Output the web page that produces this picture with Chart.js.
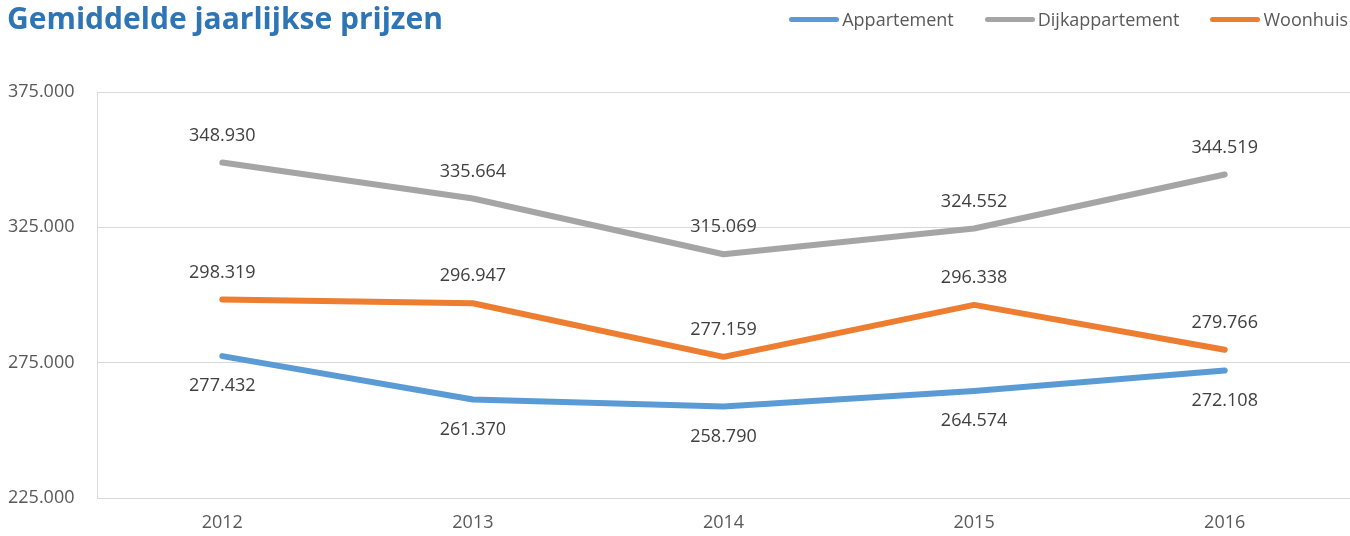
<!DOCTYPE html>
<html>
<head>
<meta charset="utf-8">
<script src="https://cdn.jsdelivr.net/npm/chart.js@4"></script>
<style>
    body { margin: 0; background: #fff; font-family: 'Open Sans', sans-serif; }
    #wrap { position: relative; width: 1350px; height: 536px; overflow: hidden; }
    #title { position: absolute; left: 7px; top: -3px; font-size: 30px; font-weight: bold; color: #2e75b6; line-height: 42px; white-space: nowrap; }
    #legend { position: absolute; right: 2px; top: 7px; display: flex; align-items: center; font-size: 18px; color: #595959; white-space: nowrap; }
    #legend .item { display: flex; align-items: center; margin-left: 31px; }
    #legend .swatch { width: 50px; height: 5px; border-radius: 3px; margin-right: 3px; }
    #chart { position: absolute; left: 0; top: 0; }
</style>
</head>
<body>
<div id="wrap">
    <canvas id="chart" width="1350" height="536"></canvas>
    <div id="title">Gemiddelde jaarlijkse prijzen</div>
    <div id="legend"></div>
</div>
<script>
// Data
const years = ['2012', '2013', '2014', '2015', '2016'];
const appartement = [277432, 261370, 258790, 264574, 272108];
const dijkappartement = [348930, 335664, 315069, 324552, 344519];
const woonhuis = [298319, 296947, 277159, 296338, 279766];
const yTicks = [225000, 275000, 325000, 375000];

// Getal met punt als duizendtal-scheiding
function formatNumber(v) {
    return String(Math.round(v)).replace(/\B(?=(\d{3})+(?!\d))/g, '.');
}

// Labels boven of onder de lijn tekenen
const dataLabelPlugin = {
    id: 'dataLabels',
    afterDatasetsDraw(chart) {
        const ctx = chart.ctx;
        ctx.save();
        ctx.font = '18px "Open Sans"';
        ctx.fillStyle = '#404040';
        ctx.textAlign = 'center';
        ctx.textBaseline = 'middle';
        chart.data.datasets.forEach((ds, i) => {
            const meta = chart.getDatasetMeta(i);
            meta.data.forEach((pt, j) => {
                const dy = ds.labelBelow ? 30 : -27;
                ctx.fillText(formatNumber(ds.data[j]), pt.x, pt.y + dy);
            });
        });
        ctx.restore();
    }
};

const ctx = document.getElementById('chart');
const chart = new Chart(ctx, {
    type: 'line',
    data: {
        labels: years,
        datasets: [
            { label: 'Appartement', data: appartement, borderColor: '#5b9bd5', labelBelow: true },
            { label: 'Dijkappartement', data: dijkappartement, borderColor: '#a5a5a5' },
            { label: 'Woonhuis', data: woonhuis, borderColor: '#ed7d31' }
        ].map(ds => Object.assign(ds, {
            borderWidth: 6,
            pointRadius: 0,
            tension: 0,
            borderCapStyle: 'round',
            borderJoinStyle: 'round',
            fill: false
        }))
    },
    options: {
        responsive: false,
        animation: false,
        layout: { padding: { top: 92, left: 8, right: 0, bottom: 0 } },
        plugins: {
            legend: { display: false },
            title: { display: false },
            tooltip: { enabled: false }
        },
        scales: {
            x: {
                offset: true,
                grid: { display: false, drawTicks: false },
                border: { display: true, color: '#d9d9d9', width: 1 },
                ticks: { color: '#595959', font: { family: 'Open Sans', size: 18 }, padding: 14 },
                afterFit(scale) { scale.height = 38; }
            },
            y: {
                min: 225000,
                max: 375000,
                afterBuildTicks(scale) { scale.ticks = yTicks.map(v => ({ value: v })); },
                grid: { color: '#d9d9d9', drawTicks: false },
                border: { display: true, color: '#d9d9d9', width: 1 },
                ticks: {
                    color: '#595959',
                    font: { family: 'Open Sans', size: 18 },
                    crossAlign: 'far',
                    callback: v => formatNumber(v)
                },
                afterFit(scale) { scale.width = 89; }
            }
        }
    },
    plugins: [dataLabelPlugin]
});

// Legenda opbouwen uit de datasets
const legendEl = document.getElementById('legend');
chart.data.datasets.forEach(ds => {
    const item = document.createElement('div');
    item.className = 'item';
    const sw = document.createElement('span');
    sw.className = 'swatch';
    sw.style.background = ds.borderColor;
    const txt = document.createElement('span');
    txt.textContent = ds.label;
    item.appendChild(sw);
    item.appendChild(txt);
    legendEl.appendChild(item);
});
</script>
</body>
</html>
